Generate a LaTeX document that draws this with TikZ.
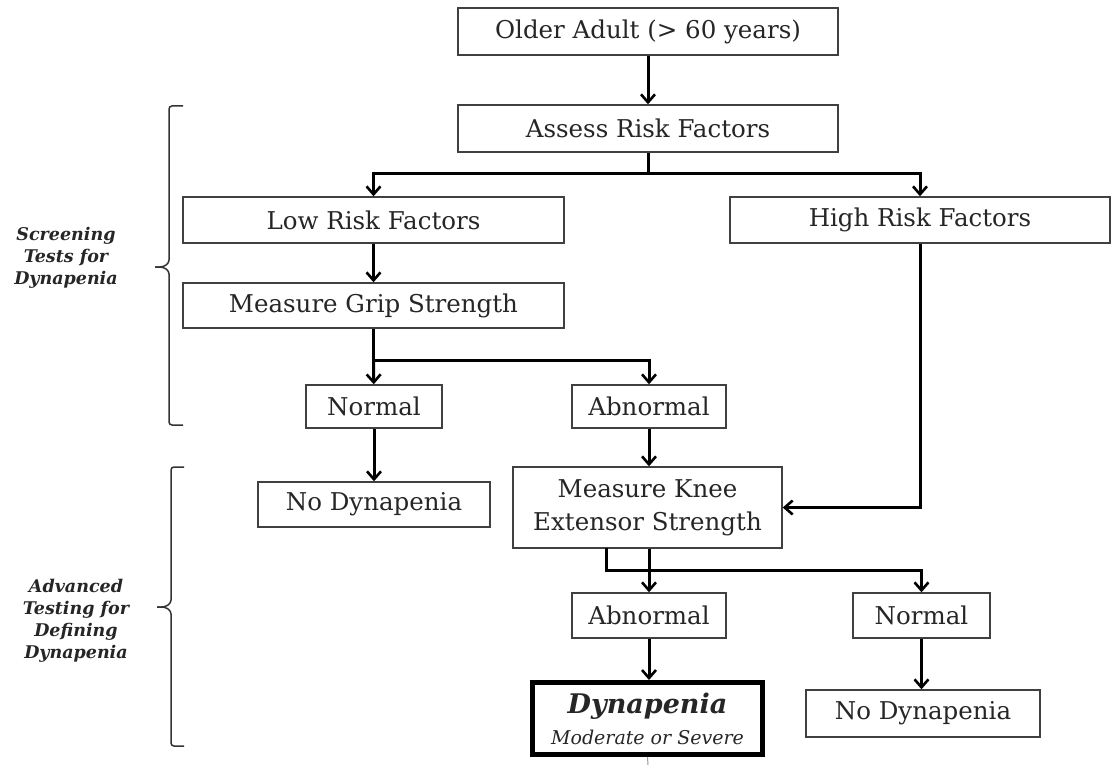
\documentclass[tikz,border=0pt]{standalone}
\usepackage{fontspec}
\setmainfont{DejaVu Serif}
\usetikzlibrary{arrows.meta}
\begin{document}
\begin{tikzpicture}[x=1pt,y=-1pt,
  box/.style={draw=black!75,line width=1.4pt,fill=white,inner sep=2pt,align=center,
    font=\fontsize{24.5}{33}\selectfont,text=black!85},
  arr/.style={line width=3pt,-{Straight Barb[length=8pt,width=14pt,line width=2.6pt]}},
  ln/.style={line width=3pt},
  brc/.style={line width=1.5pt,draw=black!80,rounded corners=3pt},
  lab/.style={align=center,font=\fontsize{17.5}{22}\selectfont\bfseries\itshape,text=black!85}]
\useasboundingbox (0,0) rectangle (1111,765);
\node[box,minimum width=380pt,minimum height=47pt] (old) at (648,31.5) {Older Adult (> 60 years)};
\node[box,minimum width=380pt,minimum height=47pt] (assess) at (648,128.5) {Assess Risk Factors};
\node[box,minimum width=381pt,minimum height=46pt] (low) at (373.5,220) {Low Risk Factors};
\node[box,minimum width=380pt,minimum height=46pt] (high) at (920,220) {High Risk Factors};
\node[box,minimum width=381pt,minimum height=45pt] (grip) at (373.5,305.5) {Measure Grip Strength};
\node[box,minimum width=136pt,minimum height=43pt] (norm1) at (374,406.5) {Normal};
\node[box,minimum width=154pt,minimum height=43pt] (abn1) at (649,406.5) {Abnormal};
\node[box,minimum width=232pt,minimum height=45pt] (nod1) at (374,504.5) {No Dynapenia};
\node[box,minimum width=269pt,minimum height=81pt] (knee) at (647.5,507.5) {Measure Knee\\Extensor Strength};
\node[box,minimum width=154pt,minimum height=45pt] (abn2) at (649,615.5) {Abnormal};
\node[box,minimum width=137pt,minimum height=45pt] (norm2) at (921.5,615.5) {Normal};
\node[box,minimum width=234pt,minimum height=47pt] (nod2) at (923,713.5) {No Dynapenia};
\node[box,line width=5pt,draw=black,minimum width=230pt,minimum height=72pt,inner sep=0pt] (dyn) at (647.5,718.5)
  {{\fontsize{27}{28}\selectfont\bfseries\itshape Dynapenia}\\[-2pt]{\fontsize{19}{22}\selectfont\itshape Moderate or Severe}};
% connectors
\coordinate (j1) at (648,173);
\coordinate (j2) at (373.5,360);
\coordinate (k1) at (606,548);
\coordinate (k2) at (606,570);
\coordinate (tail) at (648,765);
\draw[arr] (old) -- (assess);
\draw[ln] (assess) -- (j1);
\draw[arr] (j1) -| (low);
\draw[arr] (j1) -| (high);
\draw[arr] (low) -- (grip);
\draw[ln] (grip.south -| j2) -- (j2);
\draw[arr] (j2) -- (norm1);
\draw[arr] (j2) -| (abn1);
\draw[arr] (norm1) -- (nod1);
\draw[arr] (abn1.south) -- (knee.north -| abn1.south);
\draw[arr] (high) |- (knee);
\draw[arr] (knee.south -| abn2) -- (abn2);
\draw[arr] (k1) -- (k2) -| (norm2);
\draw[arr] (abn2.south) -- (abn2.south |- dyn.north);
\draw[arr] (norm2.south) -- (norm2.south |- nod2.north);
\draw[line width=1pt,black!40] (dyn.south) -- (tail);
% braces
\draw[brc] (183,106) -- (169,106) -- (169,263) -- (163,267) -- (155,267);
\draw[brc] (155,267) -- (163,267) -- (169,271) -- (169,425) -- (183,425);
\draw[brc] (184,467) -- (171,467) -- (171,603) -- (165,607) -- (157,607);
\draw[brc] (157,607) -- (165,607) -- (171,611) -- (171,746) -- (184,746);
\node[lab] (lab1) at (66,258) {Screening\\Tests for\\Dynapenia};
\node[lab] (lab2) at (76,621) {Advanced\\Testing for\\Defining\\Dynapenia};
\end{tikzpicture}
\end{document}
